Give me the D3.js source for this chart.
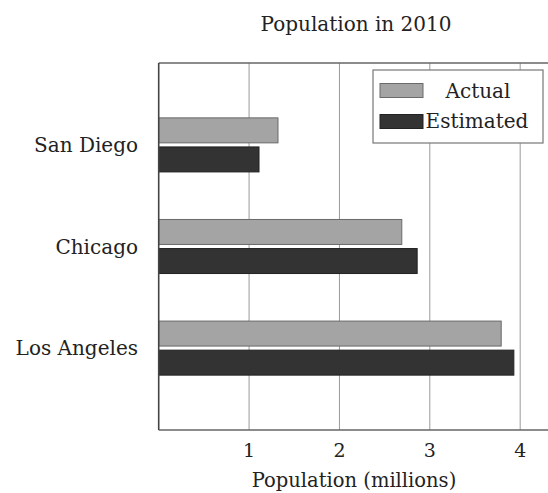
<!DOCTYPE html>
<html>
<head>
<meta charset="utf-8">
<script src="https://cdn.jsdelivr.net/npm/d3@7"></script>
<style>
  html, body { margin: 0; padding: 0; background: #fff; }
  svg { display: block; }
  text { font-family: "DejaVu Serif", "Liberation Serif", serif; fill: #222; }
</style>
</head>
<body>
<svg id="chart" width="548" height="493"></svg>
<script>
const cities = ["San Diego", "Chicago", "Los Angeles"];
const seriesNames = ["Actual", "Estimated"];
const actual = [1.32, 2.69, 3.79];
const estimated = [1.11, 2.86, 3.93];
const xTicks = [1, 2, 3, 4];
const titleText = "Population in 2010";
const xLabel = "Population (millions)";

const svg = d3.select("#chart");
const pLeft = 158.7, pRight = 550, pTop = 63, pBottom = 430;

const x = d3.scaleLinear().domain([0, 4.33]).range([pLeft, pRight]);
const y = d3.scaleBand().domain(cities).range([pTop, pBottom]).paddingInner(0.468).paddingOuter(0.54);
const ySub = d3.scaleBand().domain(seriesNames).range([0, y.bandwidth()]).paddingInner(0.14);

const colors = { "Actual": "#a4a4a4", "Estimated": "#333333" };
const strokes = { "Actual": "#6a6a6a", "Estimated": "#222222" };

// gridlines
svg.append("g")
  .selectAll("line").data(xTicks).join("line")
  .attr("x1", d => x(d)).attr("x2", d => x(d))
  .attr("y1", pTop).attr("y2", pBottom)
  .attr("stroke", "#9a9a9a").attr("stroke-width", 1);

// bars
const rows = cities.map((c, i) => ({ city: c, vals: [
  { s: "Actual", v: actual[i] }, { s: "Estimated", v: estimated[i] } ] }));

const g = svg.append("g");
rows.forEach(r => {
  g.selectAll(null).data(r.vals).join("rect")
    .attr("x", x(0))
    .attr("y", d => y(r.city) + ySub(d.s))
    .attr("width", d => x(d.v) - x(0))
    .attr("height", ySub.bandwidth())
    .attr("fill", d => colors[d.s])
    .attr("stroke", d => strokes[d.s])
    .attr("stroke-width", 1);
});

// frame
svg.append("line").attr("x1", pLeft).attr("x2", 548).attr("y1", pTop).attr("y2", pTop)
  .attr("stroke", "#666").attr("stroke-width", 1.3);
svg.append("line").attr("x1", pLeft).attr("x2", 548).attr("y1", pBottom).attr("y2", pBottom)
  .attr("stroke", "#666").attr("stroke-width", 1.3);
svg.append("line").attr("x1", pLeft).attr("x2", pLeft).attr("y1", pTop).attr("y2", pBottom)
  .attr("stroke", "#444").attr("stroke-width", 1.6);

// x tick labels
svg.append("g").selectAll("text").data(xTicks).join("text")
  .attr("x", d => x(d)).attr("y", 457)
  .attr("text-anchor", "middle").attr("font-size", 19)
  .text(d => d);

// y labels
svg.append("g").selectAll("text").data(cities).join("text")
  .attr("x", 138).attr("y", d => y(d) + y.bandwidth() / 2)
  .attr("dy", "0.35em")
  .attr("text-anchor", "end").attr("font-size", 20)
  .text(d => d);

// title
svg.append("text").attr("x", 356).attr("y", 31)
  .attr("text-anchor", "middle").attr("font-size", 20).text(titleText);

// x label
svg.append("text").attr("x", 354).attr("y", 487)
  .attr("text-anchor", "middle").attr("font-size", 19.5).text(xLabel);

// legend
const lg = svg.append("g");
lg.append("rect").attr("x", 373).attr("y", 70).attr("width", 170).attr("height", 73)
  .attr("fill", "#fff").attr("stroke", "#777").attr("stroke-width", 1.2);
const legendY = [90.5, 121.5];
seriesNames.forEach((s, i) => {
  lg.append("rect").attr("x", 380).attr("y", legendY[i] - 7).attr("width", 43).attr("height", 14)
    .attr("fill", colors[s]).attr("stroke", strokes[s]).attr("stroke-width", 1);
});
lg.append("text").attr("x", 478).attr("y", 98).attr("text-anchor", "middle").attr("font-size", 20).text(seriesNames[0]);
lg.append("text").attr("x", 477).attr("y", 128).attr("text-anchor", "middle").attr("font-size", 20).text(seriesNames[1]);
</script>
</body>
</html>
